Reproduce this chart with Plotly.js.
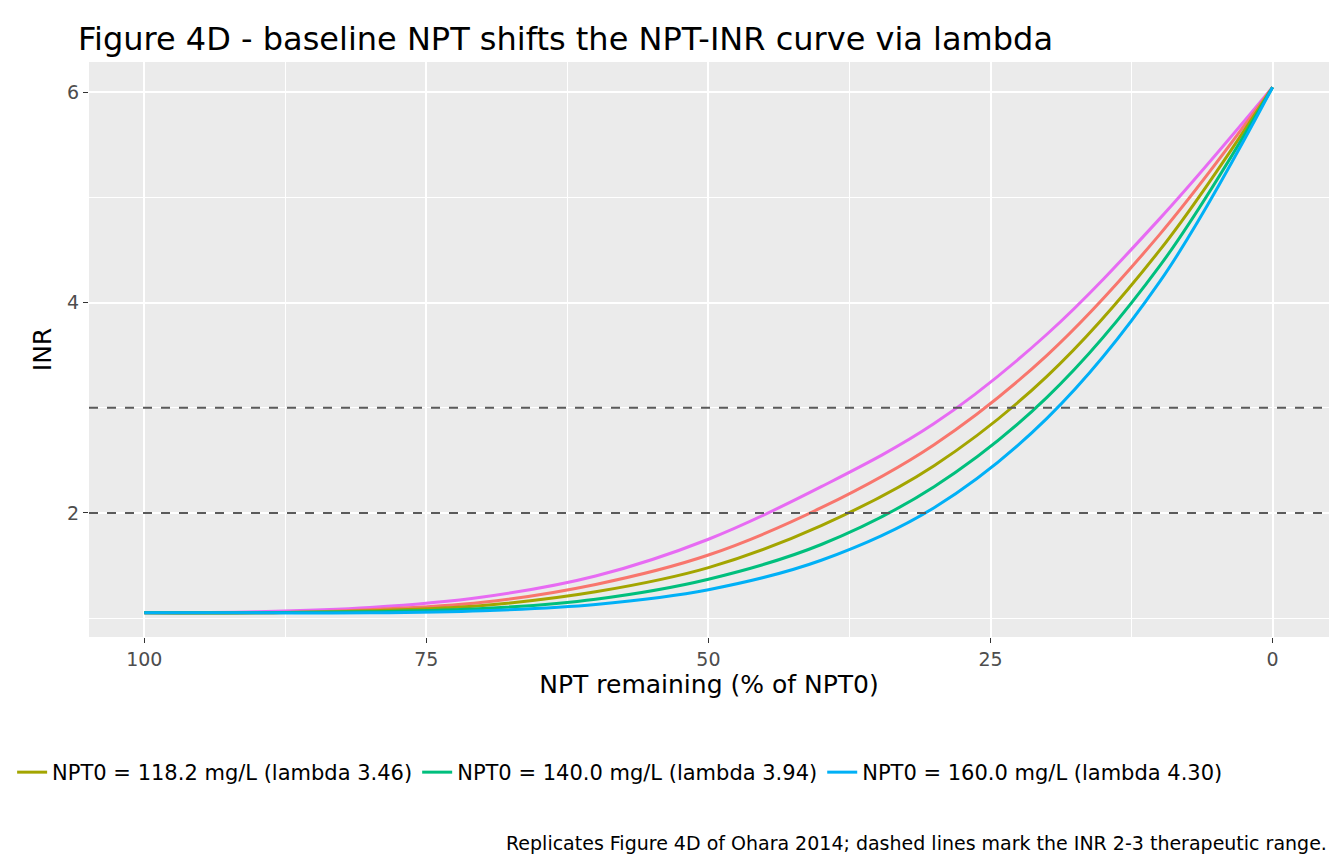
<html><head><script src="https://cdn.plot.ly/plotly-3.0.1.min.js"></script></head>
<body style="margin:0"><div id="chart" style="width:1344px;height:864px"></div>
<script>
// NPT remaining (% of NPT0) and INR
const nptPct = [100, 90, 80, 70, 60, 50, 40, 30, 20, 10, 0];
const inrMagenta = [1.05, 1.06, 1.10, 1.20, 1.40, 1.75, 2.25, 2.85, 3.70, 4.80, 6.05];
const inrSalmon  = [1.05, 1.05, 1.08, 1.15, 1.32, 1.60, 2.05, 2.65, 3.50, 4.65, 6.05];
const inrOlive   = [1.05, 1.05, 1.07, 1.12, 1.25, 1.48, 1.88, 2.45, 3.30, 4.50, 6.05];
const inrGreen   = [1.05, 1.05, 1.06, 1.09, 1.18, 1.37, 1.70, 2.25, 3.10, 4.35, 6.05];
const inrBlue    = [1.05, 1.05, 1.05, 1.07, 1.13, 1.27, 1.55, 2.05, 2.90, 4.20, 6.05];
const seriesNames = ['NPT0 = 100.0 mg/L', 'NPT0 = 110.0 mg/L',
  'NPT0 = 118.2 mg/L (lambda 3.46)', 'NPT0 = 140.0 mg/L (lambda 3.94)', 'NPT0 = 160.0 mg/L (lambda 4.30)'];
const seriesColors = ['#E76BF3', '#F8766D', '#A3A500', '#00BF7D', '#00B0F6'];
const therapeutic = [2, 3];

const allY = [inrMagenta, inrSalmon, inrOlive, inrGreen, inrBlue];
const data = allY.map((y, i) => ({
  type: 'scatter', mode: 'lines', x: nptPct, y: y, name: seriesNames[i],
  line: {color: seriesColors[i], width: 3, shape: 'spline'},
  showlegend: i >= 2
}));
therapeutic.forEach(v => data.push({
  type: 'scatter', mode: 'lines', x: [104.9, -5], y: [v, v], showlegend: false,
  line: {color: '#5a5a5a', width: 2, dash: 'dash'}, hoverinfo: 'skip'
}));

const layout = {
  width: 1344, height: 864,
  margin: {l: 77, r: 15, t: 62, b: 227},
  paper_bgcolor: 'white', plot_bgcolor: '#EBEBEB',
  font: {family: 'DejaVu Sans, sans-serif', size: 21, color: '#000'},
  title: {text: 'Figure 4D - baseline NPT shifts the NPT-INR curve via lambda',
    x: 0.058, xanchor: 'left', y: 0.968, font: {size: 32}},
  xaxis: {range: [104.9, -5], tickvals: [100, 75, 50, 25, 0], zeroline: false,
    gridcolor: 'white', gridwidth: 2, ticks: 'outside', ticklen: 5, tickcolor: '#333',
    tickfont: {size: 19, color: '#4d4d4d'},
    minor: {tickvals: [87.5, 62.5, 37.5, 12.5], showgrid: true, gridcolor: 'white', gridwidth: 1},
    title: {text: 'NPT remaining (% of NPT0)', font: {size: 25}, standoff: 6}},
  yaxis: {range: [0.82, 6.29], tickvals: [2, 4, 6], zeroline: false, automargin: false,
    gridcolor: 'white', gridwidth: 2, ticks: 'outside', ticklen: 5, tickcolor: '#333',
    tickfont: {size: 19, color: '#4d4d4d'},
    minor: {tickvals: [1, 3, 5], showgrid: true, gridcolor: 'white', gridwidth: 1},
    title: {text: 'INR', font: {size: 25}, standoff: 8}},
  legend: {orientation: 'h', x: -0.062, xanchor: 'left', y: -0.2, yanchor: 'top',
    font: {size: 21}, bgcolor: 'rgba(0,0,0,0)'},
  annotations: [{text: 'Replicates Figure 4D of Ohara 2014; dashed lines mark the INR 2-3 therapeutic range.',
    xref: 'paper', yref: 'paper', x: 1, y: -0.335, xanchor: 'right', yanchor: 'top',
    showarrow: false, font: {size: 19}}]
};
Plotly.newPlot('chart', data, layout, {displayModeBar: false});
</script></body></html>
